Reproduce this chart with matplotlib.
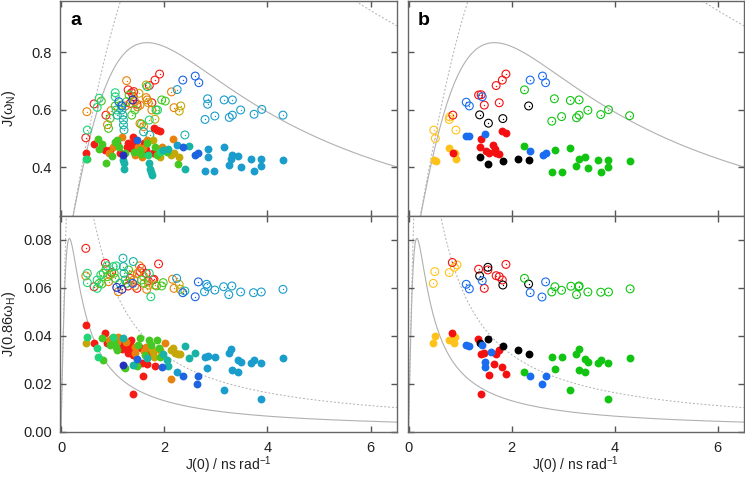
import numpy as np
import matplotlib.pyplot as plt

plt.rcParams['font.family'] = ['Liberation Sans', 'DejaVu Sans']
plt.rcParams['mathtext.fontset'] = 'custom'
plt.rcParams['mathtext.rm'] = 'Liberation Sans'

# ---- panel a: all residues, rainbow colouring (J(0), J) pairs ----
a_colors = {'red': '#f41c14', 'orange': '#e8820e', 'olive': '#c4a808', 'green': '#46c824',
            'mint': '#20d478', 'teal': '#18b2a6', 'cyan': '#1a9ccc', 'blue': '#1c64e0',
            'navy': '#2630c0'}

a_top_open = {
    'red': [(0.48, 0.502), (0.64, 0.620), (0.87, 0.581), (1.30, 0.669), (1.34, 0.622), (1.37, 0.659),
            (1.40, 0.645), (1.41, 0.663), (1.47, 0.619), (1.71, 0.684), (1.76, 0.624), (1.82, 0.703), (1.91, 0.724)],
    'orange': [(0.50, 0.593), (0.90, 0.548), (0.97, 0.597), (1.25, 0.613), (1.27, 0.701), (1.43, 0.628),
               (1.48, 0.610), (1.53, 0.616), (1.53, 0.552), (1.60, 0.541), (1.65, 0.642), (1.67, 0.634),
               (1.76, 0.599), (2.14, 0.662), (2.19, 0.607)],
    'olive': [(1.51, 0.657), (1.65, 0.686), (1.69, 0.624), (1.82, 0.567), (2.29, 0.595), (2.32, 0.613)],
    'green': [(0.78, 0.630), (0.92, 0.535), (0.95, 0.570), (1.05, 0.613), (1.16, 0.616), (1.27, 0.628),
              (1.32, 0.651), (1.43, 0.599), (1.37, 0.581), (1.56, 0.550), (1.84, 0.599), (1.95, 0.634), (2.02, 0.630)],
    'mint': [(0.51, 0.529), (0.74, 0.640), (0.70, 0.608), (1.05, 0.659), (1.05, 0.645), (1.07, 0.599),
             (1.67, 0.680), (1.71, 0.564), (1.87, 0.599)],
    'teal': [(1.09, 0.581), (1.18, 0.599), (1.20, 0.581), (1.21, 0.564), (1.21, 0.547), (1.22, 0.529),
             (1.60, 0.523), (1.72, 0.512), (2.40, 0.512)],
    'cyan': [(2.25, 0.670), (2.79, 0.566), (2.84, 0.638), (2.84, 0.619), (2.98, 0.578), (3.16, 0.634),
             (3.26, 0.573), (3.32, 0.634), (3.32, 0.581), (3.48, 0.599), (3.74, 0.584), (3.89, 0.601), (4.30, 0.581)],
    'blue': [(1.12, 0.628), (1.18, 0.613), (2.36, 0.703), (2.60, 0.717), (2.67, 0.694)],
    'navy': [(1.39, 0.634)],
}

a_top_fill = {
    'red': [(0.48, 0.448), (0.64, 0.480), (0.85, 0.459), (0.95, 0.459), (1.08, 0.483), (1.14, 0.450),
            (1.27, 0.471), (1.30, 0.483), (1.34, 0.465), (1.37, 0.471), (1.39, 0.506), (1.40, 0.483),
            (1.61, 0.485), (1.63, 0.471), (1.65, 0.459), (1.78, 0.450), (1.80, 0.535), (1.85, 0.529), (1.91, 0.527)],
    'orange': [(0.92, 0.448), (1.01, 0.471), (1.18, 0.506), (1.43, 0.442), (1.50, 0.471), (1.56, 0.436),
               (1.58, 0.465), (1.66, 0.494), (1.95, 0.471), (2.16, 0.497)],
    'olive': [(1.79, 0.494), (1.92, 0.436), (2.13, 0.442), (2.18, 0.448), (2.29, 0.434)],
    'green': [(0.51, 0.430), (0.72, 0.497), (0.74, 0.462), (0.79, 0.480), (0.87, 0.415), (0.98, 0.440),
              (1.05, 0.488), (1.09, 0.494), (1.13, 0.471), (1.24, 0.448), (1.41, 0.453), (1.53, 0.459),
              (1.54, 0.445), (1.66, 0.483), (1.82, 0.471), (1.85, 0.442), (2.05, 0.453), (2.27, 0.410)],
    'mint': [(0.48, 0.430), (1.69, 0.442), (1.91, 0.453)],
    'teal': [(1.21, 0.424), (1.22, 0.413), (1.22, 0.393), (1.71, 0.413), (1.72, 0.395), (1.74, 0.384),
             (1.76, 0.372), (1.98, 0.459), (2.08, 0.462), (2.40, 0.395), (2.47, 0.474)],
    'cyan': [(2.25, 0.478), (2.78, 0.387), (2.84, 0.463), (2.84, 0.436), (2.97, 0.387), (3.15, 0.469),
             (3.25, 0.409), (3.30, 0.430), (3.31, 0.442), (3.42, 0.440), (3.48, 0.401), (3.68, 0.429),
             (3.74, 0.388), (3.88, 0.429), (3.88, 0.405), (4.30, 0.426)],
    'blue': [(1.47, 0.494), (2.36, 0.469), (2.60, 0.441), (2.66, 0.450)],
    'navy': [(1.20, 0.442)],
}

a_bot_open = {
    'red': [(0.48, 0.0765), (0.64, 0.0605), (0.86, 0.0703), (0.98, 0.0664), (1.30, 0.0608), (1.34, 0.0640),
            (1.47, 0.0598), (1.53, 0.0668), (1.56, 0.0682), (1.65, 0.0661), (1.69, 0.0630), (1.78, 0.0633),
            (1.80, 0.0636), (1.89, 0.0700)],
    'orange': [(0.48, 0.0650), (0.92, 0.0626), (0.95, 0.0654), (1.11, 0.0584), (1.37, 0.0654), (1.41, 0.0633),
               (1.43, 0.0608), (1.48, 0.0661), (1.52, 0.0692), (1.60, 0.0647), (1.66, 0.0594), (1.82, 0.0612),
               (2.16, 0.0636), (2.19, 0.0598)],
    'olive': [(1.70, 0.0612), (2.29, 0.0615), (2.31, 0.0594)],
    'green': [(0.74, 0.0619), (0.79, 0.0616), (0.82, 0.0661), (0.87, 0.0678), (0.90, 0.0647), (1.03, 0.0661),
              (1.05, 0.0640), (1.24, 0.0633), (1.27, 0.0619), (1.31, 0.0675), (1.56, 0.0633), (1.61, 0.0619),
              (1.85, 0.0608), (1.95, 0.0608), (1.98, 0.0622)],
    'mint': [(0.51, 0.0661), (0.51, 0.0622), (0.70, 0.0633), (0.70, 0.0598), (0.77, 0.0654), (0.89, 0.0692),
             (1.01, 0.0689), (1.07, 0.0692), (1.71, 0.0661), (1.74, 0.0563)],
    'teal': [(1.14, 0.0619), (1.20, 0.0724), (1.21, 0.0689), (1.22, 0.0661), (1.40, 0.0710), (2.40, 0.0587)],
    'cyan': [(2.24, 0.0640), (2.78, 0.0584), (2.82, 0.0615), (2.84, 0.0605), (2.98, 0.0591), (3.15, 0.0605),
             (3.25, 0.0572), (3.31, 0.0608), (3.48, 0.0583), (3.73, 0.0580), (3.88, 0.0583), (4.30, 0.0594)],
    'blue': [(1.39, 0.0619), (2.36, 0.0580), (2.60, 0.0563), (2.66, 0.0625)],
    'navy': [(1.08, 0.0602), (1.18, 0.0594)],
}

a_bot_fill = {
    'red': [(0.48, 0.0445), (0.64, 0.0369), (0.85, 0.0410), (0.89, 0.0369), (1.14, 0.0362), (1.18, 0.0344),
            (1.27, 0.0348), (1.29, 0.0327), (1.30, 0.0355), (1.34, 0.0362), (1.35, 0.0383), (1.37, 0.0338),
            (1.40, 0.0320), (1.54, 0.0348), (1.56, 0.0288), (1.58, 0.0234), (1.67, 0.0282), (1.69, 0.0324),
            (1.82, 0.0274), (1.40, 0.0157)],
    'orange': [(0.92, 0.0383), (0.98, 0.0390), (1.05, 0.0390), (1.09, 0.0376), (1.11, 0.0397), (1.26, 0.0376),
               (1.43, 0.0355), (1.43, 0.0327), (1.60, 0.0338), (1.65, 0.0355), (1.78, 0.0327), (2.02, 0.0369),
               (2.14, 0.0218)],
    'olive': [(0.48, 0.0369), (1.76, 0.0341), (1.80, 0.0310), (1.92, 0.0341), (2.13, 0.0341), (2.16, 0.0348),
              (2.21, 0.0327), (2.27, 0.0324), (2.31, 0.0324)],
    'green': [(0.79, 0.0390), (0.81, 0.0299), (0.95, 0.0362), (1.03, 0.0376), (1.07, 0.0355), (1.08, 0.0341),
              (1.22, 0.0271), (1.24, 0.0264), (1.48, 0.0274), (1.50, 0.0362), (1.53, 0.0390), (1.63, 0.0320),
              (1.71, 0.0383), (1.74, 0.0362), (1.85, 0.0383), (1.89, 0.0348), (1.91, 0.0313)],
    'mint': [(0.51, 0.0397), (0.69, 0.0348), (0.72, 0.0313), (1.01, 0.0397)],
    'teal': [(1.20, 0.0390), (1.39, 0.0278), (1.66, 0.0306), (1.98, 0.0324), (2.05, 0.0299), (2.08, 0.0274),
             (2.40, 0.0358), (2.47, 0.0306), (2.60, 0.0327)],
    'cyan': [(2.24, 0.0250), (2.79, 0.0313), (2.82, 0.0264), (2.84, 0.0316), (2.98, 0.0313), (3.15, 0.0174),
             (3.25, 0.0327), (3.30, 0.0346), (3.31, 0.0257), (3.42, 0.0299), (3.43, 0.0249), (3.48, 0.0291),
             (3.68, 0.0288), (3.74, 0.0299), (3.88, 0.0135), (3.88, 0.0288), (4.30, 0.0306)],
    'blue': [(1.47, 0.0302), (1.95, 0.0271), (2.36, 0.0234), (2.63, 0.0198), (2.66, 0.0232)],
    'navy': [(1.21, 0.0278)],
}

# ---- panel b: selected residues, coloured by group ----
b_colors = {'gold': '#ffc21a', 'red': '#f41010', 'blue': '#1a6cf0', 'black': '#000000', 'green': '#12c412'}

b_top_open = {
    'gold': [(0.80, 0.575), (0.79, 0.566), (0.92, 0.529), (0.49, 0.529), (0.52, 0.500)],
    'red': [(1.89, 0.724), (1.82, 0.703), (1.70, 0.684), (1.36, 0.651), (1.41, 0.652), (1.47, 0.616),
            (1.76, 0.624), (0.86, 0.581)],
    'blue': [(2.36, 0.703), (2.60, 0.717), (2.66, 0.694), (1.12, 0.626), (1.18, 0.613), (1.43, 0.645)],
    'black': [(2.33, 0.613), (1.38, 0.582), (1.83, 0.569), (1.55, 0.553)],
    'green': [(2.25, 0.669), (2.83, 0.638), (3.14, 0.632), (3.31, 0.634), (3.48, 0.598), (3.88, 0.600),
              (4.29, 0.579), (3.73, 0.583), (3.31, 0.581), (3.26, 0.572), (2.97, 0.576), (2.78, 0.560)],
}

b_top_fill = {
    'gold': [(0.79, 0.467), (0.91, 0.450), (0.92, 0.429), (0.49, 0.424), (0.53, 0.423)],
    'red': [(1.82, 0.526), (1.89, 0.518), (1.41, 0.499), (1.38, 0.469), (1.51, 0.457), (1.63, 0.476),
            (1.67, 0.464), (1.70, 0.450), (1.76, 0.445), (1.57, 0.448), (0.86, 0.450)],
    'blue': [(1.12, 0.510), (1.18, 0.508), (1.49, 0.515), (2.36, 0.457), (2.60, 0.441), (2.66, 0.450)],
    'black': [(1.38, 0.434), (1.55, 0.411), (1.83, 0.421), (2.12, 0.428), (2.33, 0.426)],
    'green': [(2.25, 0.473), (2.84, 0.459), (3.14, 0.465), (3.31, 0.429), (3.42, 0.434), (3.25, 0.404),
              (3.48, 0.396), (3.67, 0.424), (3.87, 0.424), (3.87, 0.399), (3.73, 0.383), (2.78, 0.382),
              (2.97, 0.384), (4.30, 0.420)],
}

b_bot_open = {
    'gold': [(0.51, 0.0668), (0.48, 0.0619), (0.79, 0.0664), (0.89, 0.0686), (0.94, 0.0696)],
    'red': [(0.85, 0.0706), (1.36, 0.0678), (1.54, 0.0675), (1.47, 0.0598), (1.70, 0.0651), (1.76, 0.0647),
            (1.82, 0.0633), (1.89, 0.0698)],
    'black': [(1.54, 0.0686), (1.38, 0.0650), (1.83, 0.0612), (2.33, 0.0616)],
    'blue': [(1.12, 0.0615), (1.18, 0.0596), (1.43, 0.0630), (2.36, 0.0580), (2.66, 0.0625), (2.59, 0.0562)],
    'green': [(2.25, 0.0640), (2.84, 0.0605), (2.78, 0.0583), (2.97, 0.0590), (3.15, 0.0607), (3.30, 0.0605),
              (3.31, 0.0608), (3.26, 0.0572), (3.48, 0.0583), (3.73, 0.0582), (3.88, 0.0583), (4.30, 0.0596)],
}

b_bot_fill = {
    'gold': [(0.51, 0.0399), (0.47, 0.0369), (0.79, 0.0383), (0.89, 0.0372), (0.91, 0.0397)],
    'red': [(0.85, 0.0410), (1.35, 0.0385), (1.41, 0.0324), (1.47, 0.0330), (1.70, 0.0324), (1.75, 0.0341),
            (1.66, 0.0282), (1.82, 0.0271), (1.57, 0.0235), (1.89, 0.0239), (1.41, 0.0157)],
    'black': [(1.38, 0.0372), (1.54, 0.0387), (1.83, 0.0358), (2.12, 0.0341), (2.33, 0.0323)],
    'blue': [(1.12, 0.0360), (1.18, 0.0359), (1.43, 0.0363), (1.60, 0.0333), (1.49, 0.0292), (1.49, 0.0271),
             (2.36, 0.0231), (2.66, 0.0231), (2.59, 0.0198)],
    'green': [(2.25, 0.0250), (2.78, 0.0313), (2.97, 0.0313), (2.84, 0.0263), (3.25, 0.0324), (3.30, 0.0346),
              (3.14, 0.0174), (3.31, 0.0256), (3.42, 0.0248), (3.42, 0.0302), (3.48, 0.0291), (3.67, 0.0288),
              (3.73, 0.0299), (3.87, 0.0288), (3.87, 0.0135), (4.30, 0.0306)],
}

# rigid-rotor curves J(w) = a*J0 / (1 + (c*J0)^2) for the two fields
c_N = [0.6, 0.39]
c_H = [6.2, 3.95]
amp = [1.0, 1.02]


def lorentz(j0, a, c):
    return a * j0 / (1 + (c * j0) ** 2)


W, H = 745, 478


def rect(l, t, r, b):
    return [l / W, 1 - b / H, (r - l) / W, (b - t) / H]


fig = plt.figure(figsize=(7.45, 4.78), dpi=100)
ax_at = fig.add_axes(rect(60, 0.5, 396.5, 216))
ax_ab = fig.add_axes(rect(60, 216, 396.5, 431.7))
ax_bt = fig.add_axes(rect(407.5, 0.5, 743.5, 216))
ax_bb = fig.add_axes(rect(407.5, 216, 743.5, 431.7))

j0 = np.linspace(0.0005, 6.6, 800)


def scatter_groups(ax, groups, colors, hollow):
    for name, pts in groups.items():
        x = [p[0] for p in pts]
        y = [p[1] for p in pts]
        col = colors[name]
        if hollow:
            ax.scatter(x, y, s=32, facecolors='none', edgecolors=col, linewidths=0.8, zorder=3)
            ax.scatter(x, y, s=1.0, color=col, linewidths=0, zorder=3)
        else:
            ax.scatter(x, y, s=32, color=col, linewidths=0, zorder=3)


for ax, top in [(ax_at, True), (ax_bt, True), (ax_ab, False), (ax_bb, False)]:
    cc = c_N if top else c_H
    ax.plot(j0, lorentz(j0, amp[0], cc[0]), color='#b0b0b0', lw=0.8, zorder=1)
    ax.plot(j0, lorentz(j0, amp[1], cc[1]), color='#b0b0b0', lw=0.7, ls=(0, (2, 2)), zorder=1)
    ax.set_xlim(-0.02, 6.5)
    ax.set_xticks([0, 2, 4, 6])
    if top:
        ax.set_ylim(0.23, 0.98)
        ax.set_yticks([0.4, 0.6, 0.8])
        ax.set_yticklabels(['0.4', '0.6', '0.8'])
    else:
        ax.set_ylim(0, 0.09)
        ax.set_yticks([0, 0.02, 0.04, 0.06, 0.08])
        ax.set_yticklabels(['0.00', '0.02', '0.04', '0.06', '0.08'])
    ax.tick_params(direction='in', length=4, width=1, color='#555555', top=True, right=True,
                   labelsize=10.5, labelcolor='#222222')
    ax.tick_params(axis='y', pad=6)
    ax.tick_params(axis='x', pad=7)
    for sp in ax.spines.values():
        sp.set_color('#666666')
        sp.set_linewidth(1.0)

scatter_groups(ax_at, a_top_open, a_colors, True)
scatter_groups(ax_at, a_top_fill, a_colors, False)
scatter_groups(ax_ab, a_bot_open, a_colors, True)
scatter_groups(ax_ab, a_bot_fill, a_colors, False)
scatter_groups(ax_bt, b_top_open, b_colors, True)
scatter_groups(ax_bt, b_top_fill, b_colors, False)
scatter_groups(ax_bb, b_bot_open, b_colors, True)
scatter_groups(ax_bb, b_bot_fill, b_colors, False)

ax_at.tick_params(labelbottom=False)
ax_bt.tick_params(labelbottom=False, labelleft=False)
ax_bb.tick_params(labelleft=False)

ax_at.set_ylabel(r'J(ω$_{\mathregular{N}}$)', fontsize=10.5, color='#222222')
ax_ab.set_ylabel(r'J(0.86ω$_{\mathregular{H}}$)', fontsize=10.5, color='#222222')
ax_at.yaxis.set_label_coords(-0.125, 0.5)
ax_ab.yaxis.set_label_coords(-0.125, 0.5)
for ax in (ax_ab, ax_bb):
    ax.set_xlabel(r'J(0) / ns rad$^{\mathregular{-1}}$', fontsize=10, color='#222222')
    ax.xaxis.set_label_coords(0.5, -0.105)

ax_at.text(0.03, 0.885, 'a', transform=ax_at.transAxes, fontsize=14, fontweight='bold')
ax_bt.text(0.03, 0.885, 'b', transform=ax_bt.transAxes, fontsize=14, fontweight='bold')

fig.savefig('out.png', dpi=100)
